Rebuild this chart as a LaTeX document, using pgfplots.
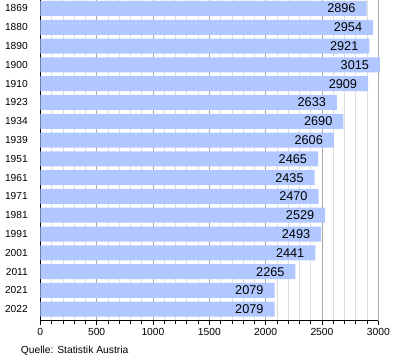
\documentclass[border=0pt]{standalone}
\usepackage{pgfplots}
\pgfplotsset{compat=1.18}
\usepackage{fontspec}
\setmainfont{Liberation Sans}
\definecolor{barblue}{HTML}{B0C8FF}
\definecolor{majgrid}{HTML}{A8A8A8}
\definecolor{mingrid}{HTML}{DDDDDD}
\begin{document}
\begin{tikzpicture}[x=1pt,y=1pt]
\useasboundingbox (0,0) rectangle (400,360);
\begin{axis}[
  at={(40.3pt,39.3pt)}, anchor=south west,
  scale only axis, width=338pt, height=320.7pt,
  xmin=0, xmax=3000, ymin=-0.45, ymax=16.61, y dir=reverse,
  clip=false,
  xbar, bar width=15pt,
  axis x line*=bottom, axis y line*=left,
  axis line style={-, black, line width=0.8pt},
  xtick={0,500,...,3000}, minor x tick num=4,
  xmajorgrids, xminorgrids,
  major grid style={majgrid, line width=0.6pt},
  minor grid style={mingrid, line width=0.6pt},
  tick align=outside,
  major tick length=4pt, minor tick length=3pt,
  x tick style={black, line width=0.6pt},
  y tick style={draw=none},
  ytick={0,...,16},
  yticklabels={1869,1880,1890,1900,1910,1923,1934,1939,1951,1961,1971,1981,1991,2001,2011,2021,2022},
  yticklabel style={font=\fontsize{10.2}{12}\selectfont, xshift=-5pt},
  xticklabel style={font=\fontsize{10.3}{12}\selectfont},
  /pgf/number format/assume math mode=true,
  /pgf/number format/1000 sep={},
  point meta=x,
  nodes near coords,
  every node near coord/.append style={anchor=east, xshift=-7.5pt, font=\fontsize{12.7}{14}\selectfont, text=black},
]
\addplot[fill=barblue, draw=none] coordinates {
(2896,0) (2954,1) (2921,2) (3015,3) (2909,4) (2633,5) (2690,6) (2606,7)
(2465,8) (2435,9) (2470,10) (2529,11) (2493,12) (2441,13) (2265,14) (2079,15) (2079,16)
};
\end{axis}
\node[anchor=base west, font=\fontsize{10.3}{12}\selectfont, inner sep=0pt] at (20.7,7) {Quelle: Statistik Austria};
\end{tikzpicture}
\end{document}
